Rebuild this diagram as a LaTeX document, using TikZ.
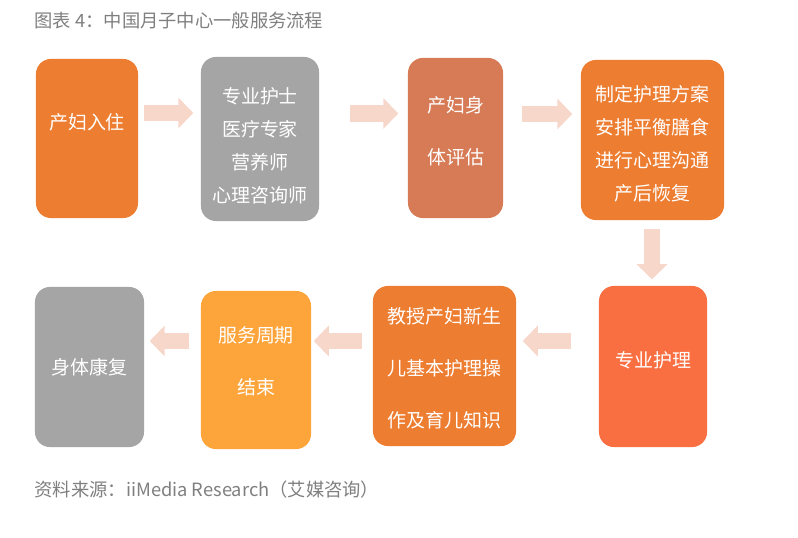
\documentclass[tikz,border=0pt]{standalone}
\usepackage{fontspec}
\newfontfamily\cjk{Noto Sans CJK SC}
\usetikzlibrary{arrows.meta}
\definecolor{orangeA}{HTML}{ED7D31}
\definecolor{grayA}{HTML}{A5A5A5}
\definecolor{brownA}{HTML}{D67B56}
\definecolor{redA}{HTML}{F96F42}
\definecolor{yellowA}{HTML}{FDA43A}
\definecolor{arrowC}{HTML}{F8D7CB}
\definecolor{capC}{HTML}{7F7F7F}
\tikzset{
  box/.style={rounded corners=0.15cm, inner sep=0pt, draw=none},
  boxtext/.style={text=white, align=center, inner sep=0pt, font=\cjk\fontsize{5.4pt}{9.4pt}\selectfont},
  widetext/.style={text=white, align=center, inner sep=0pt, font=\cjk\fontsize{5.4pt}{14.8pt}\selectfont},
  caption/.style={text=capC, anchor=west, inner sep=0pt, font=\cjk\fontsize{5.2pt}{6pt}\selectfont},
  flow/.style={draw=arrowC, line width=0.16cm, -{Triangle[length=0.15cm,width=0.30cm]}, arrowC}
}
\begin{document}
\begin{tikzpicture}[x=0.01cm,y=-0.01cm]
\useasboundingbox[fill=white] (0,0) rectangle (798,537);
\node[caption] (title) at (34,21) {图表 4：中国月子中心一般服务流程};
\node[caption] (source) at (34,490) {资料来源：iiMedia Research（艾媒咨询）};
% row 1
\node[box, fill=orangeA, minimum width=1.02cm, minimum height=1.59cm] (B1) at (87,138.5) {};
\node[box, fill=grayA, minimum width=1.18cm, minimum height=1.64cm] (B2) at (260,139) {};
\node[box, fill=brownA, minimum width=0.95cm, minimum height=1.60cm] (B3) at (455.5,138) {};
\node[box, fill=orangeA, minimum width=1.43cm, minimum height=1.60cm] (B4) at (652.5,140) {};
% row 2
\node[box, fill=redA, minimum width=1.08cm, minimum height=1.61cm] (B5) at (653,366.5) {};
\node[box, fill=orangeA, minimum width=1.43cm, minimum height=1.60cm] (B6) at (444.5,366) {};
\node[box, fill=yellowA, minimum width=1.10cm, minimum height=1.58cm] (B7) at (256,370) {};
\node[box, fill=grayA, minimum width=1.09cm, minimum height=1.60cm] (B8) at (89.5,367) {};
% texts
\node[boxtext] (T1) at (87,122) {产妇入住};
\node[boxtext] (T2) at (260,146) {专业护士\\医疗专家\\营养师\\心理咨询师};
\node[widetext] (T3) at (455.5,131) {产妇身\\体评估};
\node[boxtext] (T4) at (652.5,143.5) {制定护理方案\\安排平衡膳食\\进行心理沟通\\产后恢复};
\node[boxtext] (T5) at (653,360) {专业护理};
\node[widetext] (T6) at (444.5,368) {教授产妇新生\\儿基本护理操\\作及育儿知识};
\node[widetext] (T7) at (256,361) {服务周期\\结束};
\node[boxtext] (T8) at (89.5,367) {身体康复};
% arrows
\draw[flow] ([shift={(5,-25.5)}]B1.east) -- ([shift={(-7,-26)}]B2.west);
\draw[flow] ([shift={(30,-25.5)}]B2.east) -- ([shift={(-9,-24.5)}]B3.west);
\draw[flow] ([shift={(18,-24)}]B3.east) -- ([shift={(-8,-26)}]B4.west);
\draw[flow] ([shift={(-0.5,8)}]B4.south) -- ([shift={(-1,-6)}]B5.north);
\draw[flow] ([shift={(-27,-25.5)}]B5.west) -- ([shift={(6,-25)}]B6.east);
\draw[flow] ([shift={(-10,-25)}]B6.west) -- ([shift={(2,-29)}]B7.east);
\draw[flow] ([shift={(-11,-29)}]B7.west) -- ([shift={(5,-26)}]B8.east);
\end{tikzpicture}
\end{document}
